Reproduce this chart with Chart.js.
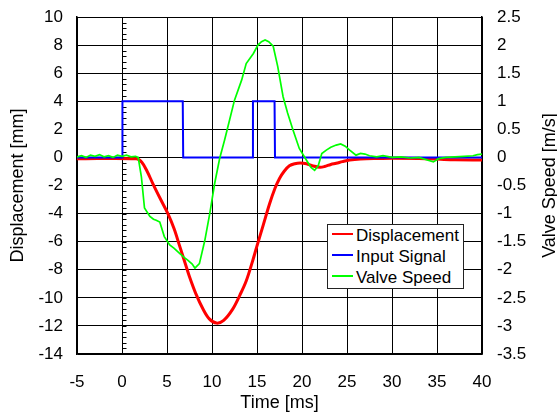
<!DOCTYPE html>
<html>
<head>
<meta charset="utf-8">
<script src="https://cdn.jsdelivr.net/npm/chart.js@4/dist/chart.umd.min.js"></script>
<style>
  body { margin: 0; background: #fff; }
  #wrap { position: relative; width: 557px; height: 415px; }
  #legend {
    position: absolute; left: 327px; top: 224px; width: 135px; height: 63px;
    border: 1px solid #222; background: #fff;
    font: 17px "Liberation Sans", Arial, sans-serif; color: #000;
  }
  #legend div { height: 21px; line-height: 21px; white-space: nowrap; }
  #legend span.mark { display: inline-block; width: 21px; height: 2px; margin: 0 3px 5px 4px; vertical-align: middle; }
</style>
</head>
<body>
<div id="wrap">
  <canvas id="chart" width="557" height="415"></canvas>
  <div id="legend"></div>
</div>
<script>
// Displacement [mm] (left axis)
var dispTime = [-5, 1.6, 2.2, 2.8, 3.45, 4.3, 5.1, 5.8, 6.4, 7.0, 7.5, 8.2, 9.0, 9.7, 10.5, 11.3, 12.3, 13.1, 13.8, 14.5, 15.0, 15.7, 16.4, 17.0, 17.5, 18.0, 18.6, 19.2, 19.8, 20.5, 21.2, 22.0, 22.5, 23.2, 23.8, 24.5, 25.3, 26.5, 28.3, 30, 33, 35, 37, 40];
var dispMm   = [-0.1, -0.1, -0.35, -1.0, -1.9, -3.0, -4.0, -5.1, -6.3, -7.5, -8.5, -9.7, -10.8, -11.5, -11.8, -11.6, -10.8, -9.8, -8.8, -7.4, -6.3, -4.8, -3.3, -2.2, -1.5, -1.0, -0.6, -0.45, -0.4, -0.45, -0.6, -0.7, -0.65, -0.5, -0.42, -0.3, -0.19, -0.12, -0.08, -0.06, -0.08, -0.12, -0.17, -0.18];

// Input signal (right axis, 0 / 1)
var signalTime  = [-5, 0, 0.05, 6.75, 6.8, 14.5, 14.55, 16.95, 17, 40];
var signalLevel = [0, 0, 1, 1, 0, 0, 1, 1, 0, 0];

// Valve speed [m/s] (right axis)
var speedTime = [-5, -4.5, -4, -3.5, -3, -2.5, -2, -1.5, -1, -0.5, 0, 0.5, 1, 1.5, 1.8,
  2.15, 2.5, 3.1, 3.5, 3.8, 4.2, 4.7, 5.3, 5.8, 6.4, 6.9, 7.3, 7.8, 8.1, 8.6, 9.2, 9.75, 10.3, 10.85,
  11.4, 11.96, 12.5, 13.3, 13.8, 14.6, 15.1, 15.5, 15.9, 16.3, 16.8, 17.3, 17.9, 18.4, 19.0, 19.7,
  20.5, 21.0, 21.4, 21.8, 22.2, 22.7, 23.2, 23.8, 24.3, 24.8, 25.3, 26.0, 26.5, 27.0, 27.5, 28.3,
  29, 30, 31, 32, 33, 34, 34.6, 35.2, 36, 37, 38, 39, 39.5, 40];
var speedMs = [0.01, 0.03, 0.0, 0.04, 0.02, 0.05, 0.01, 0.03, 0.0, 0.04, 0.02, 0.04, 0.01, 0.02, 0.0,
  -0.34, -0.9, -1.05, -1.1, -1.12, -1.15, -1.41, -1.56, -1.62, -1.71, -1.78, -1.83, -1.9, -1.97, -1.89, -1.48, -1.0, -0.46, -0.02,
  0.31, 0.67, 1.02, 1.38, 1.67, 1.85, 2.0, 2.06, 2.09, 2.06, 1.98, 1.62, 1.08, 0.79, 0.49, 0.16,
  -0.05, -0.18, -0.23, -0.15, 0.07, 0.13, 0.18, 0.22, 0.24, 0.2, 0.13, 0.04, 0.07, 0.06, 0.03, 0.01,
  0.03, 0.0, 0.01, -0.01, 0.0, -0.05, -0.08, -0.02, 0.0, 0.01, 0.02, 0.03, 0.05, 0.06];

var seriesNames = ['Displacement', 'Input Signal', 'Valve Speed'];

function toPoints(xs, ys) {
  return xs.map(function(t, i) { return {x: t, y: ys[i]}; });
}

function plainNumber(v) {
  return String(Math.round(v * 10) / 10);
}

// fixed axis sizes so the plot box sits where the original one does
function fixWidth(w) {
  return function(s) { s.width = w; s.paddingTop = 0; s.paddingBottom = 0; };
}

Chart.defaults.font.family = '"Liberation Sans", Arial, sans-serif';
Chart.defaults.font.size = 17;
Chart.defaults.color = '#000';

// little ticks along the y axis crossing at t = 0
var zeroAxisTicks = {
  id: 'zeroAxisTicks',
  beforeDatasetsDraw: function(chart) {
    var ctx = chart.ctx, x = chart.scales.x, y = chart.scales.y;
    var x0 = Math.round(x.getPixelForValue(0)) + 0.5;
    ctx.save();
    ctx.strokeStyle = '#000';
    ctx.lineWidth = 1;
    ctx.beginPath();
    ctx.moveTo(x0, chart.chartArea.top);
    ctx.lineTo(x0, chart.chartArea.bottom);
    for (var v = -14; v <= 10.001; v += 0.4) {
      var py = Math.round(y.getPixelForValue(v)) + 0.5;
      ctx.moveTo(x0, py);
      ctx.lineTo(x0 + 4, py);
    }
    ctx.stroke();
    ctx.restore();
  }
};

// right axis title reads bottom to top like the left one
var rightTitle = {
  id: 'rightTitle',
  afterDraw: function(chart) {
    var ctx = chart.ctx, a = chart.chartArea;
    ctx.save();
    ctx.translate(550, (a.top + a.bottom) / 2);
    ctx.rotate(-Math.PI / 2);
    ctx.font = '18px "Liberation Sans", Arial, sans-serif';
    ctx.fillStyle = '#000';
    ctx.textAlign = 'center';
    ctx.textBaseline = 'middle';
    ctx.fillText('Valve Speed [m/s]', 0, 0);
    ctx.restore();
  }
};

var chart = new Chart(document.getElementById('chart'), {
  type: 'line',
  data: {
    datasets: [
      {label: seriesNames[0], data: toPoints(dispTime, dispMm), yAxisID: 'y',
       borderColor: '#ff0000', borderWidth: 3, pointRadius: 0, tension: 0.35, order: 3},
      {label: seriesNames[1], data: toPoints(signalTime, signalLevel), yAxisID: 'y2',
       borderColor: '#0000ff', borderWidth: 2, pointRadius: 0, tension: 0, order: 2},
      {label: seriesNames[2], data: toPoints(speedTime, speedMs), yAxisID: 'y2',
       borderColor: '#00ff00', borderWidth: 1.7, pointRadius: 0, tension: 0, order: 1}
    ]
  },
  options: {
    responsive: false,
    animation: false,
    devicePixelRatio: 1,
    layout: {padding: {top: 17, left: 0, right: 0, bottom: 0}},
    plugins: {legend: {display: false}, tooltip: {enabled: false}},
    scales: {
      x: {
        type: 'linear', min: -5, max: 40,
        ticks: {stepSize: 5, padding: 18},
        grid: {color: '#000', lineWidth: 1, drawTicks: false},
        border: {color: '#000', width: 1.5},
        title: {display: true, text: 'Time [ms]', font: {size: 18}, padding: {top: 0, bottom: 1}},
        afterFit: function(s) { s.height = 61; s.paddingLeft = 0; s.paddingRight = 0; }
      },
      y: {
        position: 'left', min: -14, max: 10,
        ticks: {stepSize: 2, padding: 14, callback: plainNumber},
        grid: {color: '#000', lineWidth: 1, drawTicks: false},
        border: {color: '#000', width: 1.5},
        title: {display: true, text: 'Displacement [mm]', font: {size: 18}, padding: {top: 7, bottom: 0}},
        afterFit: fixWidth(77)
      },
      y2: {
        position: 'right', min: -3.5, max: 2.5,
        ticks: {stepSize: 0.5, padding: 15, callback: plainNumber},
        grid: {drawOnChartArea: false, drawTicks: false},
        border: {color: '#000', width: 1.5},
        afterFit: fixWidth(75)
      }
    }
  },
  plugins: [zeroAxisTicks, rightTitle]
});

// legend built from the datasets
var legend = document.getElementById('legend');
chart.data.datasets.forEach(function(ds) {
  var row = document.createElement('div');
  var mark = document.createElement('span');
  mark.className = 'mark';
  mark.style.background = ds.borderColor;
  row.appendChild(mark);
  row.appendChild(document.createTextNode(ds.label));
  legend.appendChild(row);
});
</script>
</body>
</html>
